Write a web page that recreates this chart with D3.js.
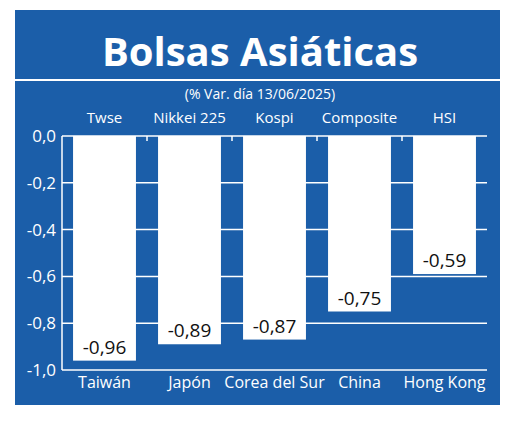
<!DOCTYPE html><html><head><meta charset="utf-8"><script src="https://cdn.jsdelivr.net/npm/d3@7"></script>
<style>body{margin:0;background:#fff}</style></head><body><script>
const categories=["Taiwán","Japón","Corea del Sur","China","Hong Kong"];
const indices=["Twse","Nikkei 225","Kospi","Composite","HSI"];
const values=[-0.96,-0.89,-0.87,-0.75,-0.59];
const ticks=[0,-0.2,-0.4,-0.6,-0.8,-1.0];
const F="'Liberation Sans Narrow','Open Sans',sans-serif";
const svg=d3.select("body").append("svg").attr("width",520).attr("height",422);
svg.append("rect").attr("x",15).attr("y",10).attr("width",485).attr("height",395).attr("fill","#1b5ea9");
svg.append("text").attr("x",260).attr("y",66).attr("text-anchor","middle").attr("fill","#fff")
 .attr("font-family","'Open Sans',sans-serif").attr("font-weight","bold").attr("font-size",40).text("Bolsas Asiáticas");
svg.append("line").attr("x1",15).attr("x2",500).attr("y1",80).attr("y2",80).attr("stroke","#fff").attr("stroke-width",2);
svg.append("text").attr("x",260).attr("y",99).attr("text-anchor","middle").attr("fill","#fff").attr("font-family",F).attr("font-size",14).text("(% Var. día 13/06/2025)");
const x=d3.scaleBand().domain(categories).range([62,487]).paddingInner(0.26).paddingOuter(0.13);
const y=d3.scaleLinear().domain([-1,0]).range([370,136]);
const g=svg.append("g");
ticks.forEach(t=>{
 g.append("line").attr("x1",62).attr("x2",487).attr("y1",y(t)).attr("y2",y(t)).attr("stroke","#fff").attr("stroke-width",1.5);
 g.append("text").attr("x",56).attr("y",y(t)+6).attr("text-anchor","end").attr("fill","#fff").attr("font-family",F).attr("font-size",17).text(d3.format(".1f")(t).replace(".",",").replace("−","-"));
});
g.append("line").attr("x1",62).attr("x2",62).attr("y1",136).attr("y2",370).attr("stroke","#fff").attr("stroke-width",1.5);
categories.forEach((c,i)=>{
 const bx=x(c),w=x.bandwidth();
 g.append("rect").attr("x",bx).attr("y",y(0)).attr("width",w).attr("height",y(values[i])-y(0)).attr("fill","#fff");
 g.append("text").attr("x",bx+w/2).attr("y",y(values[i])-7).attr("text-anchor","middle").attr("fill","#111").attr("font-family",F).attr("font-size",19).text(d3.format(".2f")(values[i]).replace(".",",").replace("−","-"));
 g.append("text").attr("x",bx+w/2).attr("y",123).attr("text-anchor","middle").attr("fill","#fff").attr("font-family",F).attr("font-size",15).text(indices[i]);
 g.append("text").attr("x",bx+w/2).attr("y",388).attr("text-anchor","middle").attr("fill","#fff").attr("font-family",F).attr("font-size",16).text(c);
 if(i>0){const tx=bx-x.step()*x.paddingInner()/2;g.append("line").attr("x1",tx).attr("x2",tx).attr("y1",136).attr("y2",141).attr("stroke","#fff").attr("stroke-width",1.5);}
});
</script></body></html>
